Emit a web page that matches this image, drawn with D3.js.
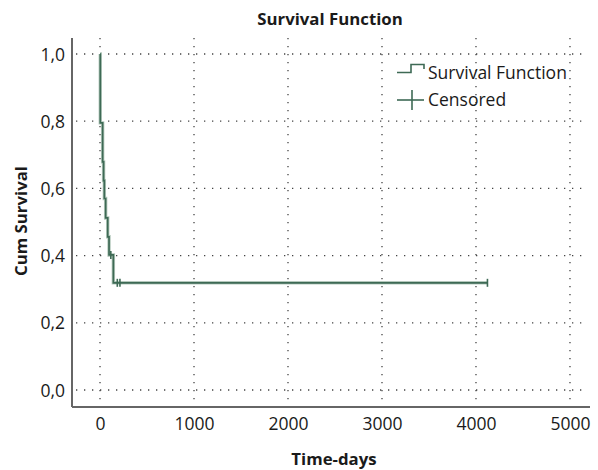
<!DOCTYPE html>
<html><head><meta charset="utf-8">
<script src="https://cdn.jsdelivr.net/npm/d3@7/dist/d3.min.js"></script>
<style>body{margin:0;background:#fff}svg{display:block}text{font-family:"Open Sans",sans-serif;fill:#1a1a1a}</style>
</head><body><svg id="c" width="598" height="470"></svg>
<script>
const eventTimes = [3, 28, 38, 46, 60, 82, 96, 142];
const survival = [0.795, 0.679, 0.623, 0.570, 0.512, 0.456, 0.402, 0.319];
const censorTimes = [115, 184, 212, 4122];
const censorSurv = [0.402, 0.319, 0.319, 0.319];
const xTicks = [0, 1000, 2000, 3000, 4000, 5000];
const yTicks = [0, 0.2, 0.4, 0.6, 0.8, 1.0];
const lineColor = "#3e6a55";

(function(){
const svg = d3.select("#c");
const x = d3.scaleLinear().domain([-298, 5213]).range([72, 590]);
const y = d3.scaleLinear().domain([0, 1]).range([390, 54]);
const pTop = 38, pBottom = 407, pLeft = 72, pRight = 590;

// grid
const g = svg.append("g");
g.selectAll(".hg").data(yTicks).join("line")
  .attr("x1", pLeft + 4).attr("x2", 585).attr("y1", d => y(d)).attr("y2", d => y(d))
  .attr("stroke", "#444").attr("stroke-width", 1.3).attr("stroke-dasharray", "1.3 6.7");
g.selectAll(".vg").data(xTicks).join("line")
  .attr("x1", d => x(d)).attr("x2", d => x(d)).attr("y1", pTop).attr("y2", pBottom + 3)
  .attr("stroke", "#444").attr("stroke-width", 1.3).attr("stroke-dasharray", "1.3 6.7");

// axes lines
svg.append("line").attr("x1", pLeft).attr("x2", pLeft).attr("y1", pTop).attr("y2", pBottom).attr("stroke", "#666").attr("stroke-width", 2);
svg.append("line").attr("x1", pLeft).attr("x2", pRight).attr("y1", pBottom).attr("y2", pBottom).attr("stroke", "#666").attr("stroke-width", 2);

// tick labels via axes
const yAxis = d3.axisLeft(y).tickValues(yTicks).tickSize(0).tickPadding(0)
  .tickFormat(d => d3.format(".1f")(d).replace(".", ","));
const ya = svg.append("g").attr("transform", "translate(65,0)").call(yAxis);
ya.select(".domain").remove();
ya.selectAll("text").attr("font-size", 17.5).attr("font-family", "Open Sans").attr("fill", "#1a1a1a").attr("dy", "0.35em");

const xAxis = d3.axisBottom(x).tickValues(xTicks).tickSize(0).tickPadding(0).tickFormat(d3.format("d"));
const xa = svg.append("g").attr("transform", "translate(0,430)").call(xAxis);
xa.select(".domain").remove();
xa.selectAll("text").attr("font-size", 17.5).attr("font-family", "Open Sans").attr("fill", "#1a1a1a").attr("dy", "0");

// survival step line
const pts = [[0, 1]].concat(eventTimes.map((t, i) => [t, survival[i]])).concat([[censorTimes[censorTimes.length - 1], survival[survival.length - 1]]]);
const line = d3.line().x(d => x(d[0])).y(d => y(d[1])).curve(d3.curveStepAfter);
svg.append("path").attr("d", line(pts)).attr("fill", "none").attr("stroke", "#b5c9bd").attr("stroke-width", 3.4);
svg.append("path").attr("d", line(pts)).attr("fill", "none").attr("stroke", lineColor).attr("stroke-width", 1.7);

// censor marks
svg.selectAll(".cm").data(censorTimes).join("line")
  .attr("x1", d => x(d)).attr("x2", d => x(d))
  .attr("y1", (d, i) => y(censorSurv[i]) - 4).attr("y2", (d, i) => y(censorSurv[i]) + 4)
  .attr("stroke", lineColor).attr("stroke-width", 1.6);

// legend
const lg = svg.append("g");
lg.append("path").attr("d", "M397,72.5 H411 V64.5 H424 V69").attr("fill", "none").attr("stroke", lineColor).attr("stroke-width", 1.6);
lg.append("text").attr("x", 428).attr("y", 73).attr("dy", "0.35em").attr("font-size", 17.5).text("Survival Function");
lg.append("line").attr("x1", 397).attr("x2", 424).attr("y1", 100).attr("y2", 100).attr("stroke", lineColor).attr("stroke-width", 1.6);
lg.append("line").attr("x1", 412).attr("x2", 412).attr("y1", 90).attr("y2", 110).attr("stroke", lineColor).attr("stroke-width", 1.6);
lg.append("text").attr("x", 428).attr("y", 100).attr("dy", "0.35em").attr("font-size", 17.5).text("Censored");

// titles
svg.append("text").attr("x", 330).attr("y", 19).attr("dy", "0.35em").attr("text-anchor", "middle").attr("font-weight", "bold").attr("font-size", 16.8).text("Survival Function");
svg.append("text").attr("x", 334).attr("y", 459).attr("dy", "0.35em").attr("text-anchor", "middle").attr("font-weight", "bold").attr("font-size", 16.8).text("Time-days");
svg.append("text").attr("transform", "translate(21,221) rotate(-90)").attr("dy", "0.35em").attr("text-anchor", "middle").attr("font-weight", "bold").attr("font-size", 16.8).text("Cum Survival");
})();
</script></body></html>
